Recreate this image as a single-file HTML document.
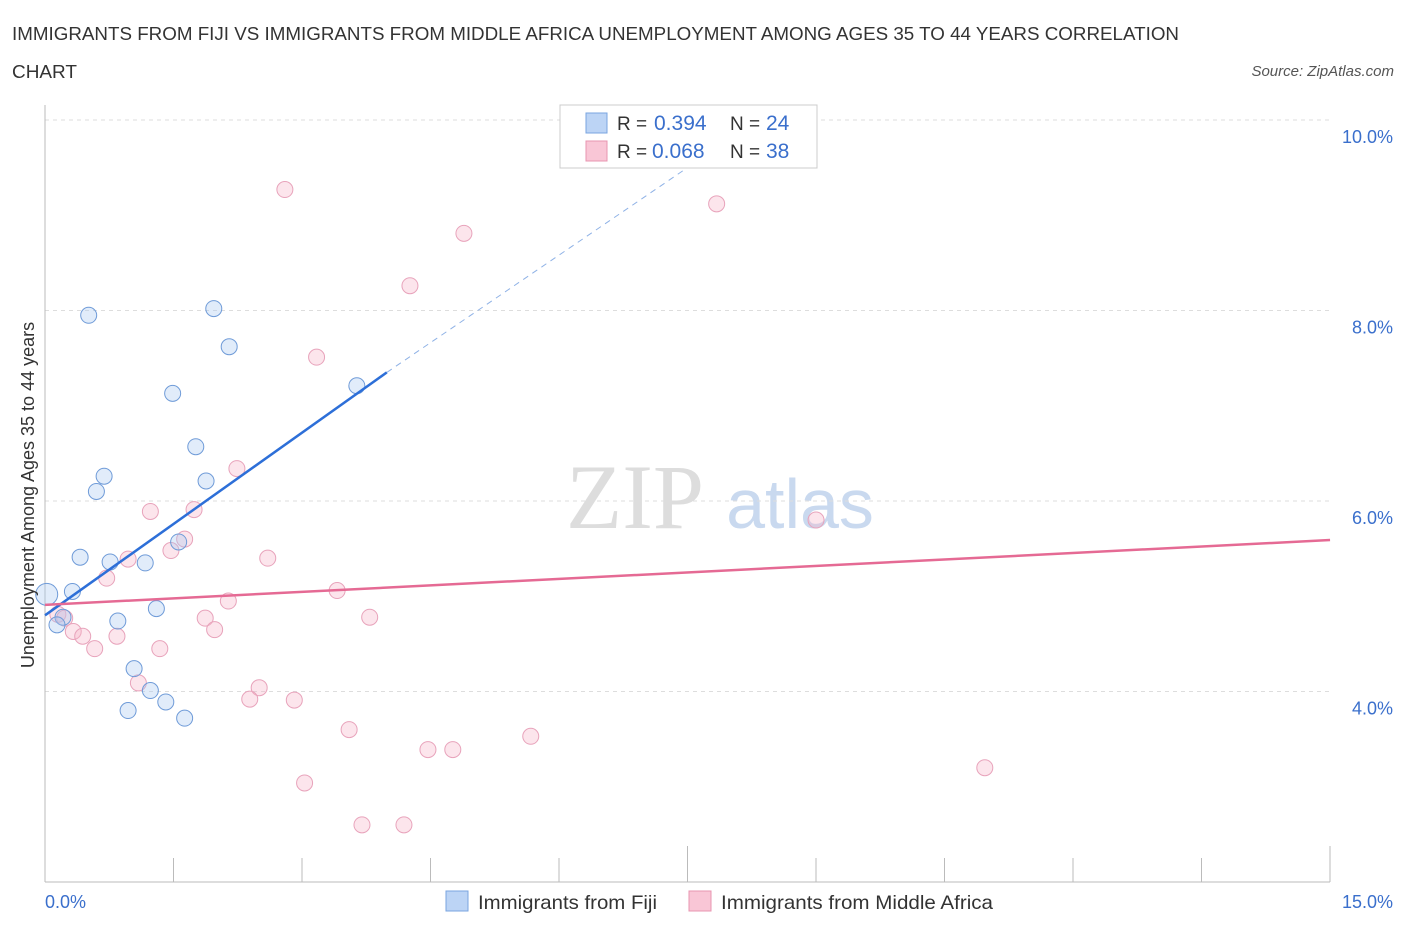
<!DOCTYPE html>
<html><head><meta charset="utf-8"><style>
body{margin:0;background:#fff;font-family:"Liberation Sans",sans-serif;}
svg{display:block}
</style></head><body>
<svg id="chart" width="1406" height="930">
<text x="12" y="40" font-size="18" fill="#333" textLength="1167" lengthAdjust="spacingAndGlyphs">IMMIGRANTS FROM FIJI VS IMMIGRANTS FROM MIDDLE AFRICA UNEMPLOYMENT AMONG AGES 35 TO 44 YEARS CORRELATION</text>
<text x="12" y="78" font-size="18" fill="#333" textLength="65" lengthAdjust="spacingAndGlyphs">CHART</text>
<text x="1394" y="76" font-size="15" fill="#555" text-anchor="end" font-style="italic">Source: ZipAtlas.com</text>
<text x="635" y="528" font-size="92" fill="#ddd" font-family="Liberation Serif" text-anchor="middle">ZIP</text>
<text x="800" y="528" font-size="70" fill="#c9d9ef" text-anchor="middle">atlas</text>
<g id="grid"></g>
<g id="marks"></g>
<text transform="translate(34,495) rotate(-90)" font-size="18" fill="#333" text-anchor="middle">Unemployment Among Ages 35 to 44 years</text>
<text x="45" y="908" font-size="18" fill="#3a6fcc">0.0%</text>
<text x="1393" y="908" font-size="18" fill="#3a6fcc" text-anchor="end">15.0%</text>
<rect x="446" y="891" width="22" height="20" fill="#bcd4f5" stroke="#7aa5e0"/>
<text x="478" y="909" font-size="19.5" fill="#333" textLength="179" lengthAdjust="spacingAndGlyphs">Immigrants from Fiji</text>
<rect x="689" y="891" width="22" height="20" fill="#f9c6d6" stroke="#e895b0"/>
<text x="721" y="909" font-size="19.5" fill="#333" textLength="272" lengthAdjust="spacingAndGlyphs">Immigrants from Middle Africa</text>
<g>
<rect x="560" y="105" width="257" height="63" fill="#fff" stroke="#ccc"/>
<rect x="586" y="113" width="21" height="20" fill="#bcd4f5" stroke="#7aa5e0"/>
<rect x="586" y="141" width="21" height="20" fill="#f9c6d6" stroke="#e895b0"/>
<text x="617" y="130" font-size="19" fill="#333">R = <tspan x="654" fill="#3a6fcc" font-size="21">0.394</tspan><tspan x="730">N = </tspan><tspan x="766" fill="#3a6fcc" font-size="21">24</tspan></text>
<text x="617" y="158" font-size="19" fill="#333">R = <tspan x="652" fill="#3a6fcc" font-size="21">0.068</tspan><tspan x="730">N = </tspan><tspan x="766" fill="#3a6fcc" font-size="21">38</tspan></text>
</g>
</svg>
<script>
const fijiX=[0.51,1.97,2.15,1.49,3.64,1.76,0.69,0.60,1.88,0.41,0.76,1.17,1.56,0.32,0.02,0.21,0.14,0.85,1.30,1.04,1.23,1.41,0.97,1.63];
const fijiY=[7.95,8.02,7.62,7.13,7.21,6.57,6.26,6.10,6.21,5.41,5.36,5.35,5.57,5.05,5.02,4.78,4.70,4.74,4.87,4.24,4.01,3.89,3.80,3.72];
const afrX=[2.80,4.89,7.84,4.26,3.17,2.24,1.23,1.74,9.00,0.97,1.63,1.47,2.60,0.72,3.41,2.14,0.15,0.23,3.79,1.87,1.98,0.33,0.44,0.84,0.58,1.34,1.09,2.50,2.39,2.91,3.55,4.47,4.76,5.67,3.03,3.70,4.19,10.97];
const afrY=[9.27,8.81,9.12,8.26,7.51,6.34,5.89,5.91,5.80,5.39,5.60,5.48,5.40,5.19,5.06,4.95,4.81,4.77,4.78,4.77,4.65,4.63,4.58,4.58,4.45,4.45,4.09,4.04,3.92,3.91,3.60,3.39,3.39,3.53,3.04,2.60,2.60,3.20];
const yTicks=[4,6,8,10];
const fijiTrend=[0,4.80,3.99,7.35,7.5,9.50];
const afrTrend=[0,4.91,15,5.59];
const X=v=>45+v*85.67, Y=v=>882-(v-2)*95.25;
const NS="http://www.w3.org/2000/svg";
function mk(p,t,a){const e=document.createElementNS(NS,t);for(const k in a)e.setAttribute(k,a[k]);p.appendChild(e);return e;}
const grid=document.getElementById('grid'),marks=document.getElementById('marks'),svg=document.getElementById('chart');
yTicks.forEach(t=>{const l=mk(grid,'line',{x1:45,x2:1330,y1:Y(t),y2:Y(t),stroke:'#ddd','stroke-dasharray':'4,4'});


const tx=mk(svg,'text',{x:1393,y:Y(t)+23,'font-size':18,fill:'#3a6fcc','text-anchor':'end'});tx.textContent=t.toFixed(1)+'%';

});
const ax=mk(grid,'line',{x1:45,x2:1330,y1:882,y2:882,stroke:'#bbb'});


const ay=mk(grid,'line',{x1:45,x2:45,y1:105,y2:882,stroke:'#bbb'});


for(let i=0;i<=10;i++){const tk=mk(grid,'line',{x1:45+i*128.5,x2:45+i*128.5,y1:882,y2:i%5==0?846:858,stroke:'#bbb'});

}
afrX.forEach((x,i)=>{const c=mk(marks,'circle',{cx:X(x),cy:Y(afrY[i]),r:8,fill:'rgba(246,180,200,0.35)',stroke:'#e8a3bb'});

});
fijiX.forEach((x,i)=>{const c=mk(marks,'circle',{cx:X(x),cy:Y(fijiY[i]),r:i==14?11:8,fill:'rgba(170,200,240,0.35)',stroke:'#6f9bd8'});

});
const t1=mk(marks,'line',{x1:X(fijiTrend[0]),y1:Y(fijiTrend[1]),x2:X(fijiTrend[2]),y2:Y(fijiTrend[3]),stroke:'#2d6fd8','stroke-width':2.5});


const t2=mk(marks,'line',{x1:X(fijiTrend[2]),y1:Y(fijiTrend[3]),x2:X(fijiTrend[4]),y2:Y(fijiTrend[5]),stroke:'#8fb2e6','stroke-width':1,'stroke-dasharray':'6,5'});


const t3=mk(marks,'line',{x1:X(afrTrend[0]),y1:Y(afrTrend[1]),x2:X(afrTrend[2]),y2:Y(afrTrend[3]),stroke:'#e56a94','stroke-width':2.5});


</script>
</body></html>
